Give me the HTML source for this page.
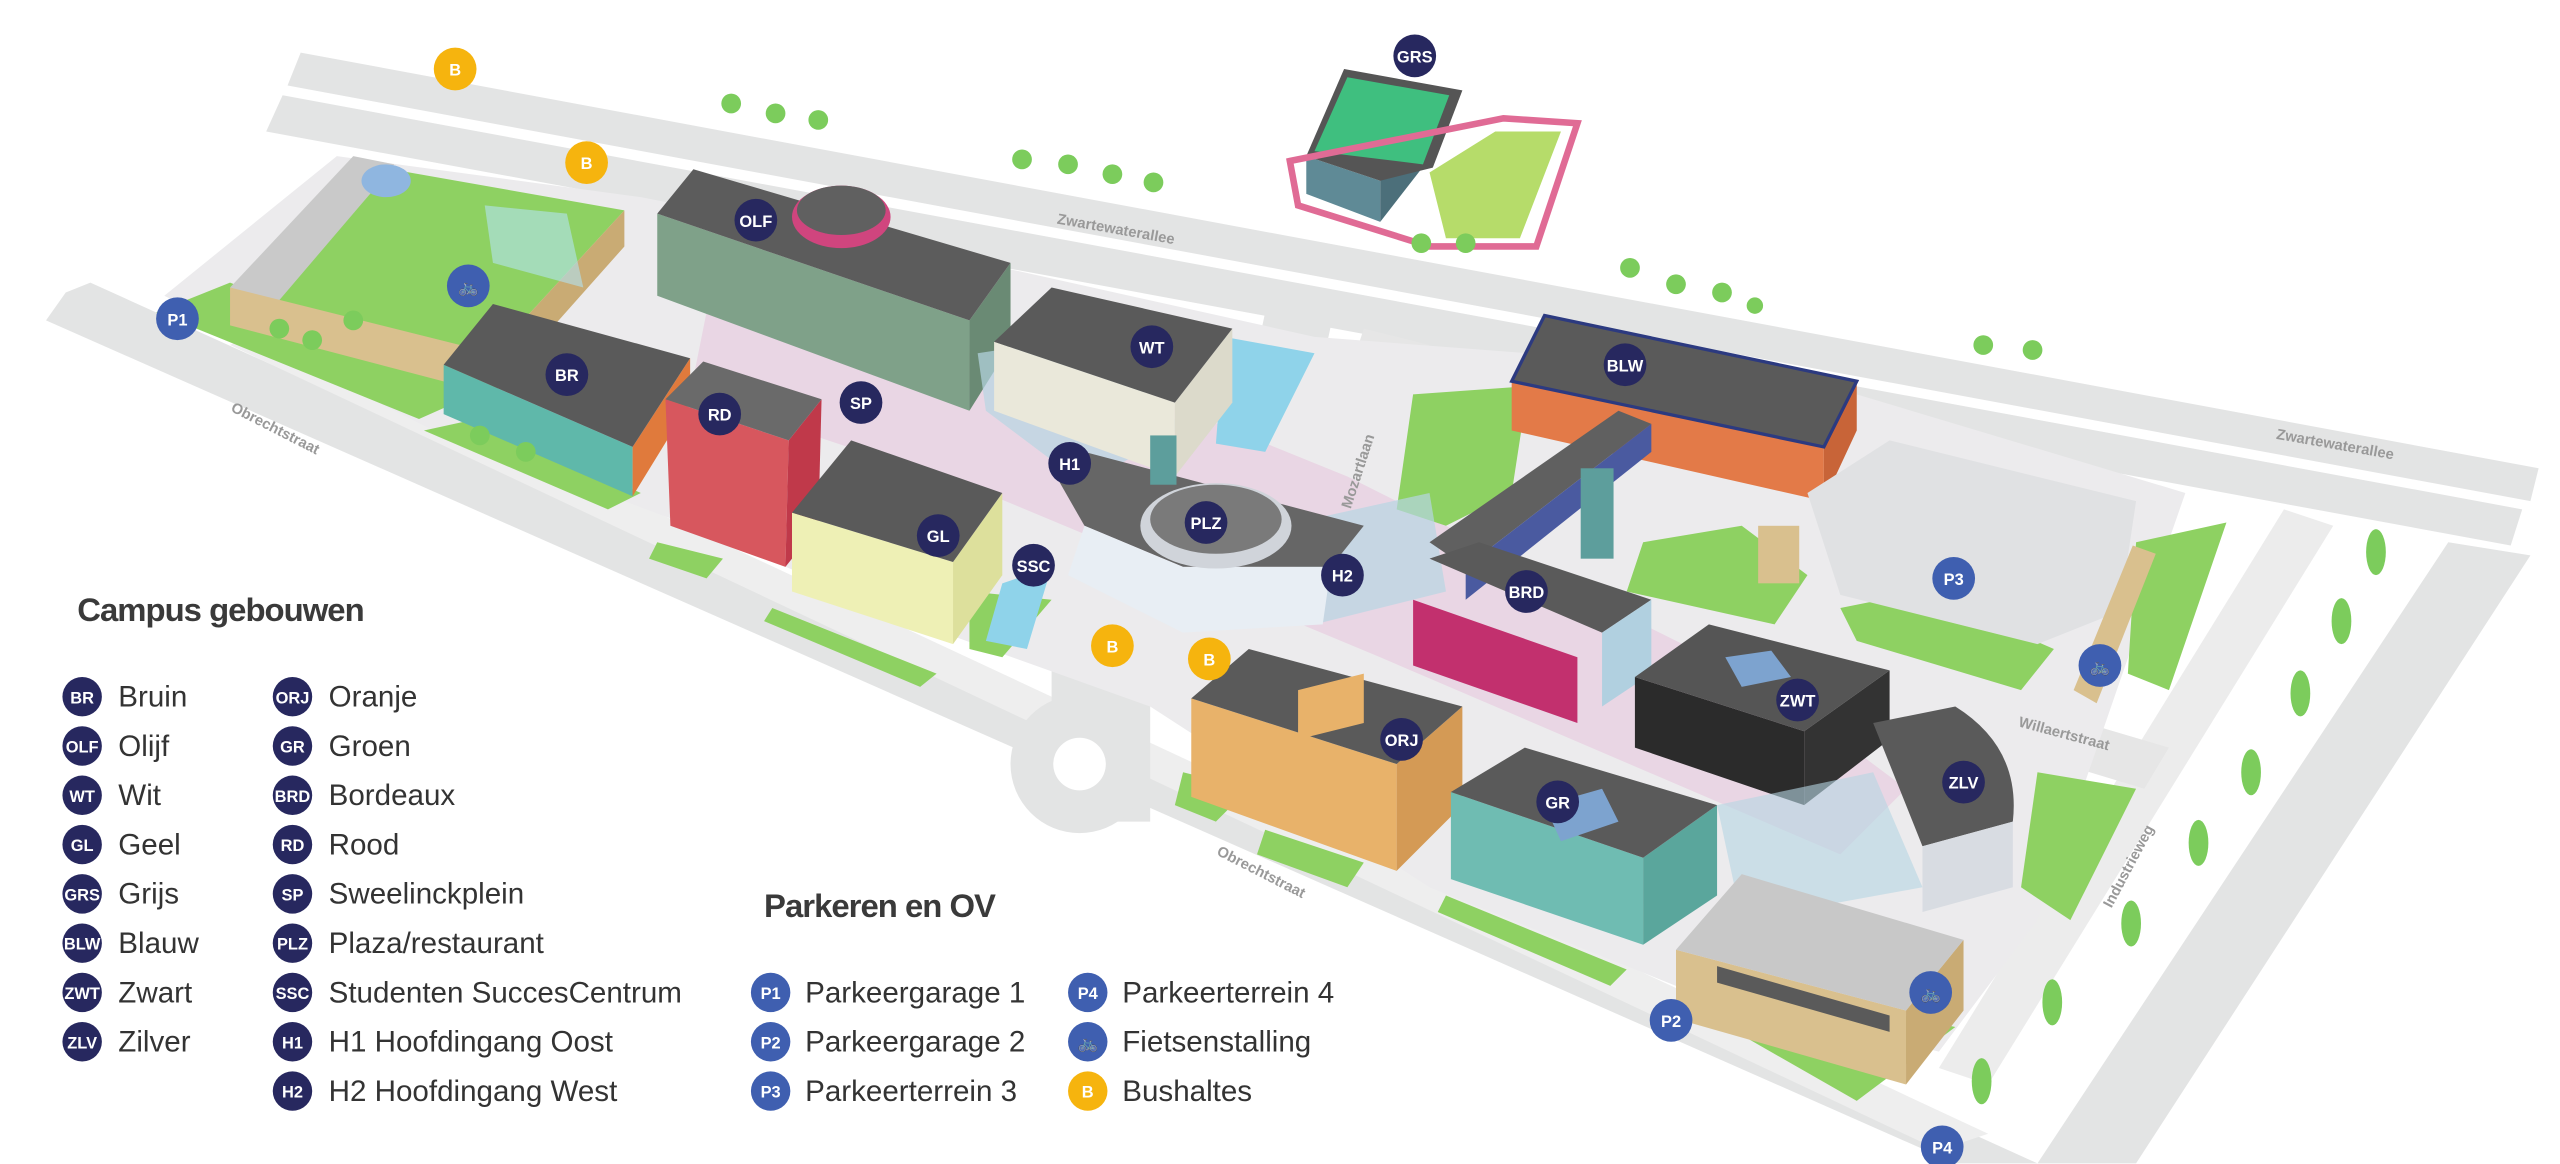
<!DOCTYPE html>
<html><head><meta charset="utf-8"><style>
html,body{margin:0;padding:0;background:#fff;width:2560px;height:1164px;overflow:hidden}
svg{display:block}
text{font-family:"Liberation Sans",sans-serif}
.bd text{fill:#fff;font-weight:bold;font-size:10px;text-anchor:middle}
.lg{font-size:18px;fill:#333}
.rl{font-size:9px;fill:#999;font-weight:bold}
</style></head><body>
<svg width="2560" height="1164" viewBox="0 0 1558 708.4" preserveAspectRatio="none" xmlns="http://www.w3.org/2000/svg">
<rect width="1558" height="710" fill="#fff"/>
<!-- top roads -->
<polygon points="183,32 1545,285 1540,305 175,52" fill="#e3e4e4"/>
<polygon points="172,58 1535,310 1528,332 162,80" fill="#e3e4e4"/>
<!-- Obrechtstraat -->
<polygon points="40,178 55,172 1240,708 1190,708 28,195" fill="#e3e4e4"/>
<polygon points="140,210 160,200 1210,690 1180,700" fill="#eeeeee"/>
<!-- Industrieweg -->
<polygon points="1490,330 1540,338 1300,708 1240,708" fill="#e3e4e4"/>
<polygon points="1390,310 1420,320 1210,660 1180,650" fill="#ececec"/>
<!-- Mozartlaan -->
<polygon points="770,190 810,198 760,430 720,425" fill="#e3e4e4"/>
<polygon points="830,200 870,210 840,300 800,292" fill="#e6e6e6"/>
<!-- roundabout spur -->
<polygon points="640,380 700,385 700,500 640,500" fill="#e3e4e4"/>
<circle cx="657" cy="465" r="42" fill="#e3e4e4"/>
<circle cx="657" cy="465" r="16" fill="#fff"/>
<!-- Willaertstraat -->
<polygon points="1100,390 1320,455 1305,480 1090,415" fill="#e6e6e6"/>
<!-- campus base -->
<polygon points="100,180 205,95 390,120 620,165 800,205 930,215 1130,240 1330,300 1290,415 1240,560 1180,640 1020,600 870,540 700,430 560,380 420,320 260,260" fill="#ecebed"/>
<polygon points="430,190 660,225 820,290 1080,420 1160,480 1120,520 840,400 600,300 420,240" fill="#e9d6e4"/>
<!-- green areas -->
<polygon points="95,190 140,172 300,235 255,255" fill="#8ed162"/>
<polygon points="258,262 290,255 390,300 370,310" fill="#8ed162"/>
<polygon points="400,330 440,340 430,352 395,340" fill="#8ed162"/>
<polygon points="470,370 570,410 560,418 465,378" fill="#8ed162"/>
<polygon points="860,240 930,235 920,300 880,320 850,310" fill="#8ed162"/>
<polygon points="1000,330 1060,320 1100,350 1080,380 990,360" fill="#8ed162"/>
<polygon points="1120,370 1170,360 1250,395 1230,420 1130,390" fill="#8ed162"/>
<polygon points="1300,330 1355,318 1320,420 1295,410" fill="#8ed162"/>
<polygon points="1240,470 1300,480 1260,560 1230,540" fill="#8ed162"/>
<polygon points="720,470 760,480 740,500 715,490" fill="#8ed162"/>
<polygon points="770,505 830,525 820,540 765,520" fill="#8ed162"/>
<polygon points="880,545 990,590 980,600 875,555" fill="#8ed162"/>
<polygon points="1060,630 1120,610 1190,625 1130,670" fill="#8ed162"/>
<polygon points="590,360 640,365 610,400 590,395" fill="#8ed162"/>
<!-- water -->
<polygon points="745,205 800,215 770,275 740,270" fill="#8fd3ea"/>
<polygon points="610,355 640,345 625,395 600,390" fill="#8fd3ea"/>
<!-- P1 garage -->
<polygon points="140,175 215,95 240,100 170,185" fill="#c9c9c9"/>
<polygon points="168,185 238,103 380,128 300,215" fill="#8ed162"/>
<polygon points="140,175 300,215 300,240 140,198" fill="#d9c08e"/>
<polygon points="300,215 380,128 380,150 300,240" fill="#c9ab74"/>
<ellipse cx="235" cy="110" rx="15" ry="10" fill="#8fb6e0"/>
<polygon points="295,125 345,130 355,175 300,160" fill="#b2e3f2" opacity=".6"/>
<!-- OLF -->
<polygon points="400,130 590,195 590,250 400,180" fill="#7fa189"/>
<polygon points="590,195 615,160 615,210 590,250" fill="#6a8a74"/>
<polygon points="400,130 422,103 615,160 590,195" fill="#5c5c5c"/>
<ellipse cx="512" cy="132" rx="30" ry="19" fill="#d0457e"/>
<ellipse cx="512" cy="128" rx="27" ry="15" fill="#606060"/>
<!-- glass connectors -->
<polygon points="595,215 660,205 720,260 660,295 600,250" fill="#b6d6e2" opacity=".7"/>
<polygon points="780,320 870,300 880,360 800,380" fill="#b6d6e2" opacity=".7"/>
<!-- BR -->
<polygon points="270,222 385,272 385,302 270,252" fill="#5fb8aa"/>
<polygon points="385,272 420,218 420,245 385,302" fill="#e07a3c"/>
<polygon points="270,222 300,185 420,218 385,272" fill="#5a5a5a"/>
<!-- RD -->
<polygon points="405,243 480,268 478,345 408,320" fill="#d7575e"/>
<polygon points="480,268 500,243 498,320 478,345" fill="#c0394a"/>
<polygon points="405,243 428,220 500,243 480,268" fill="#6a6a6a"/>
<!-- WT -->
<polygon points="605,208 715,245 715,290 605,250" fill="#eae8da"/>
<polygon points="715,245 750,200 750,245 715,290" fill="#dcdacb"/>
<polygon points="605,208 640,175 750,200 715,245" fill="#5a5a5a"/>
<!-- GL -->
<polygon points="482,312 580,342 580,392 482,360" fill="#eef0b5"/>
<polygon points="580,342 610,300 610,350 580,392" fill="#dde09c"/>
<polygon points="482,312 518,268 610,300 580,342" fill="#5a5a5a"/>
<!-- H1/PLZ/H2 building -->
<polygon points="640,285 660,275 830,320 810,345 720,345 660,320" fill="#666"/>
<polygon points="660,320 720,345 810,345 805,380 720,385 650,350" fill="#e8eef4"/>
<ellipse cx="740" cy="320" rx="46" ry="26" fill="#d0d4da"/>
<ellipse cx="740" cy="316" rx="40" ry="21" fill="#7a7a7a"/>
<rect x="700" y="265" width="16" height="30" fill="#5d9e9c"/>
<!-- BLW -->
<polygon points="920,232 1110,272 1110,305 920,262" fill="#e37a48"/>
<polygon points="1110,272 1130,232 1130,262 1110,305" fill="#c86438"/>
<polygon points="920,232 940,192 1130,232 1110,272" fill="#5a5a5a" stroke="#2c3a80" stroke-width="2"/>
<!-- long connector -->
<polygon points="870,330 985,250 1005,258 892,345" fill="#606060"/>
<polygon points="892,345 1005,258 1005,275 892,365" fill="#4a5aa0"/>
<rect x="962" y="285" width="20" height="55" fill="#5d9e9c"/>
<!-- BRD -->
<polygon points="860,365 960,400 960,440 860,405" fill="#c2306e"/>
<polygon points="870,340 900,330 1005,365 975,385" fill="#5a5a5a"/>
<polygon points="975,385 1005,365 1005,410 975,430" fill="#b1d0e0"/>
<!-- ZWT -->
<polygon points="995,412 1098,445 1098,490 995,455" fill="#2b2b2b"/>
<polygon points="1098,445 1150,408 1150,450 1098,490" fill="#333"/>
<polygon points="995,412 1040,380 1150,408 1098,445" fill="#555"/>
<polygon points="1050,400 1078,396 1090,412 1060,418" fill="#7da3cf"/>
<!-- ZLV -->
<path d="M1140,440 L1190,430 Q1230,455 1225,500 L1170,515 Z" fill="#5a5a5a"/>
<path d="M1170,515 L1225,500 L1225,540 L1170,555 Z" fill="#d8dce2"/>
<!-- ORJ -->
<polygon points="725,425 850,465 850,530 725,485" fill="#e8b26a"/>
<polygon points="850,465 890,430 890,490 850,530" fill="#d49a55"/>
<polygon points="725,425 760,395 890,430 850,465" fill="#5a5a5a"/>
<polygon points="790,420 830,410 830,440 790,450" fill="#e8b26a"/>
<!-- GR -->
<polygon points="883,482 1000,522 1000,575 883,535" fill="#6fbcb2"/>
<polygon points="1000,522 1045,490 1045,545 1000,575" fill="#5aa69c"/>
<polygon points="883,482 928,455 1045,490 1000,522" fill="#5a5a5a"/>
<polygon points="940,490 975,480 985,500 950,512" fill="#7da3cf"/>
<!-- glass around GR/ZLV -->
<polygon points="1045,490 1140,470 1170,540 1060,560" fill="#b6d6e2" opacity=".6"/>
<!-- P2 -->
<polygon points="1020,578 1160,615 1160,660 1020,620" fill="#d9c08e"/>
<polygon points="1160,615 1195,572 1195,615 1160,660" fill="#c9ab74"/>
<polygon points="1020,578 1060,532 1195,572 1160,615" fill="#c8c8c8"/>
<polygon points="1045,588 1150,618 1150,628 1045,598" fill="#5a5a5a"/>
<!-- P3 lot -->
<polygon points="1100,300 1150,268 1300,305 1290,372 1240,392 1120,362" fill="#e0e1e3"/>
<rect x="1070" y="320" width="25" height="35" fill="#d9c08e"/>
<polygon points="1262,420 1298,332 1312,337 1276,428" fill="#d9c08e"/>
<!-- GRS -->
<polygon points="795,95 840,110 840,135 795,118" fill="#5f8a96"/>
<polygon points="840,110 875,65 875,90 840,135" fill="#4c6f7a"/>
<polygon points="795,95 818,42 890,55 872,102 840,110" fill="#555"/>
<polygon points="800,92 820,47 882,58 866,100" fill="#3fbf7f"/>
<polygon points="785,98 915,72 960,75 935,150 870,150 790,125" fill="none" stroke="#e06b95" stroke-width="4"/>
<polygon points="870,105 910,80 950,80 925,145 880,145" fill="#b6dc6a"/>
<!-- trees (simple) -->
<g fill="#7ccc5c">
<circle cx="445" cy="63" r="6"/><circle cx="472" cy="69" r="6"/><circle cx="498" cy="73" r="6"/>
<circle cx="622" cy="97" r="6"/><circle cx="650" cy="100" r="6"/><circle cx="677" cy="106" r="6"/><circle cx="702" cy="111" r="6"/>
<circle cx="992" cy="163" r="6"/><circle cx="1020" cy="173" r="6"/><circle cx="1048" cy="178" r="6"/><circle cx="1068" cy="186" r="5"/>
<circle cx="1207" cy="210" r="6"/><circle cx="1237" cy="213" r="6"/>
<circle cx="865" cy="148" r="6"/><circle cx="892" cy="148" r="6"/>
<ellipse cx="1446" cy="336" rx="6" ry="14"/><ellipse cx="1425" cy="378" rx="6" ry="14"/><ellipse cx="1400" cy="422" rx="6" ry="14"/><ellipse cx="1370" cy="470" rx="6" ry="14"/><ellipse cx="1338" cy="513" rx="6" ry="14"/><ellipse cx="1297" cy="562" rx="6" ry="14"/><ellipse cx="1249" cy="610" rx="6" ry="14"/><ellipse cx="1206" cy="658" rx="6" ry="14"/>
<circle cx="170" cy="200" r="6"/><circle cx="190" cy="207" r="6"/><circle cx="215" cy="195" r="6"/><circle cx="292" cy="265" r="6"/><circle cx="320" cy="275" r="6"/>
</g>
<!-- road labels -->
<text class="rl" transform="translate(140,250) rotate(27)">Obrechtstraat</text>
<text class="rl" transform="translate(740,520) rotate(27)">Obrechtstraat</text>
<text class="rl" transform="translate(643,136) rotate(10)">Zwartewaterallee</text>
<text class="rl" transform="translate(1385,267) rotate(10)">Zwartewaterallee</text>
<text class="rl" transform="translate(822,310) rotate(-72)">Mozartlaan</text>
<text class="rl" transform="translate(1228,442) rotate(15)">Willaertstraat</text>
<text class="rl" transform="translate(1285,553) rotate(-62)">Industrieweg</text>
<!-- badges -->
<g class="bd">
<g fill="#27285f">
<circle cx="861" cy="34" r="13"/><circle cx="460" cy="134" r="13"/><circle cx="345" cy="228" r="13"/><circle cx="438" cy="252" r="13"/><circle cx="524" cy="245" r="13"/><circle cx="701" cy="211" r="13"/><circle cx="651" cy="282" r="13"/><circle cx="734" cy="318" r="13"/><circle cx="571" cy="326" r="13"/><circle cx="629" cy="344" r="13"/><circle cx="817" cy="350" r="13"/><circle cx="989" cy="222" r="13"/><circle cx="929" cy="360" r="13"/><circle cx="1094" cy="426" r="13"/><circle cx="1195" cy="476" r="13"/><circle cx="853" cy="450" r="13"/><circle cx="948" cy="488" r="13"/>
</g>
<g fill="#3f5fb0">
<circle cx="108" cy="194" r="13"/><circle cx="1017" cy="621" r="13"/><circle cx="1189" cy="352" r="13"/><circle cx="1182" cy="698" r="13"/><circle cx="285" cy="174" r="13"/><circle cx="1278" cy="405" r="13"/><circle cx="1175" cy="604" r="13"/>
</g>
<g fill="#f6b40e">
<circle cx="277" cy="42" r="13"/><circle cx="357" cy="99" r="13"/><circle cx="677" cy="393" r="13"/><circle cx="736" cy="401" r="13"/>
</g>
<text x="861" y="38">GRS</text><text x="460" y="138">OLF</text><text x="345" y="232">BR</text><text x="438" y="256">RD</text><text x="524" y="249">SP</text><text x="701" y="215">WT</text><text x="651" y="286">H1</text><text x="734" y="322">PLZ</text><text x="571" y="330">GL</text><text x="629" y="348">SSC</text><text x="817" y="354">H2</text><text x="989" y="226">BLW</text><text x="929" y="364">BRD</text><text x="1094" y="430">ZWT</text><text x="1195" y="480">ZLV</text><text x="853" y="454">ORJ</text><text x="948" y="492">GR</text>
<text x="108" y="198">P1</text><text x="1017" y="625">P2</text><text x="1189" y="356">P3</text><text x="1182" y="702">P4</text>
<text x="285" y="178">&#x1F6B2;</text><text x="1278" y="409">&#x1F6B2;</text><text x="1175" y="608">&#x1F6B2;</text>
<text x="277" y="46">B</text><text x="357" y="103">B</text><text x="677" y="397">B</text><text x="736" y="405">B</text>
</g>
<!-- legend -->
<text x="47" y="378" font-size="20" font-weight="bold" fill="#3a3a3a" letter-spacing="-0.6">Campus gebouwen</text>
<text x="465" y="558" font-size="20" font-weight="bold" fill="#3a3a3a" letter-spacing="-0.6">Parkeren en OV</text>
<g class="bd">
<g fill="#27285f">
<circle cx="50" cy="424" r="12"/><circle cx="50" cy="454" r="12"/><circle cx="50" cy="484" r="12"/><circle cx="50" cy="514" r="12"/><circle cx="50" cy="544" r="12"/><circle cx="50" cy="574" r="12"/><circle cx="50" cy="604" r="12"/><circle cx="50" cy="634" r="12"/>
<circle cx="178" cy="424" r="12"/><circle cx="178" cy="454" r="12"/><circle cx="178" cy="484" r="12"/><circle cx="178" cy="514" r="12"/><circle cx="178" cy="544" r="12"/><circle cx="178" cy="574" r="12"/><circle cx="178" cy="604" r="12"/><circle cx="178" cy="634" r="12"/><circle cx="178" cy="664" r="12"/>
</g>
<g fill="#3f5fb0"><circle cx="469" cy="604" r="12"/><circle cx="469" cy="634" r="12"/><circle cx="469" cy="664" r="12"/><circle cx="662" cy="604" r="12"/><circle cx="662" cy="634" r="12"/></g>
<circle cx="662" cy="664" r="12" fill="#f6b40e"/>
<text x="50" y="428" font-size="9">BR</text><text x="50" y="458" font-size="9">OLF</text><text x="50" y="488" font-size="9">WT</text><text x="50" y="518" font-size="9">GL</text><text x="50" y="548" font-size="9">GRS</text><text x="50" y="578" font-size="9">BLW</text><text x="50" y="608" font-size="9">ZWT</text><text x="50" y="638" font-size="9">ZLV</text>
<text x="178" y="428" font-size="9">ORJ</text><text x="178" y="458" font-size="9">GR</text><text x="178" y="488" font-size="9">BRD</text><text x="178" y="518" font-size="9">RD</text><text x="178" y="548" font-size="9">SP</text><text x="178" y="578" font-size="9">PLZ</text><text x="178" y="608" font-size="9">SSC</text><text x="178" y="638" font-size="9">H1</text><text x="178" y="668" font-size="9">H2</text>
<text x="469" y="608" font-size="9">P1</text><text x="469" y="638" font-size="9">P2</text><text x="469" y="668" font-size="9">P3</text><text x="662" y="608" font-size="9">P4</text><text x="662" y="638" font-size="9">&#x1F6B2;</text><text x="662" y="668" font-size="9">B</text>
</g>
<g class="lg">
<text x="72" y="430">Bruin</text><text x="72" y="460">Olijf</text><text x="72" y="490">Wit</text><text x="72" y="520">Geel</text><text x="72" y="550">Grijs</text><text x="72" y="580">Blauw</text><text x="72" y="610">Zwart</text><text x="72" y="640">Zilver</text>
<text x="200" y="430">Oranje</text><text x="200" y="460">Groen</text><text x="200" y="490">Bordeaux</text><text x="200" y="520">Rood</text><text x="200" y="550">Sweelinckplein</text><text x="200" y="580">Plaza/restaurant</text><text x="200" y="610">Studenten SuccesCentrum</text><text x="200" y="640">H1 Hoofdingang Oost</text><text x="200" y="670">H2 Hoofdingang West</text>
<text x="490" y="610">Parkeergarage 1</text><text x="490" y="640">Parkeergarage 2</text><text x="490" y="670">Parkeerterrein 3</text>
<text x="683" y="610">Parkeerterrein 4</text><text x="683" y="640">Fietsenstalling</text><text x="683" y="670">Bushaltes</text>
</g>
</svg>
</body></html>
